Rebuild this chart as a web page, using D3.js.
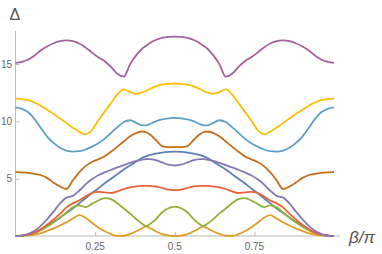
<!DOCTYPE html>
<html>
<head>
<meta charset="utf-8">
<script src="https://cdn.jsdelivr.net/npm/d3@7"></script>
<style>
  body { margin: 0; background: #fff; }
  text { font-family: "Liberation Sans", Arial, sans-serif; }
</style>
</head>
<body>
<div id="chart"></div>
<script>
// beta/pi grid (extra points at the crossings 0.41 / 0.59)
var beta = [0, 0.02, 0.04, 0.06, 0.08, 0.1, 0.12, 0.14, 0.16, 0.18, 0.2, 0.22, 0.24, 0.26, 0.28, 0.3, 0.32, 0.34, 0.36, 0.38, 0.4, 0.41,
    0.42, 0.44, 0.46, 0.48, 0.5, 0.52, 0.54, 0.56, 0.58, 0.59, 0.6, 0.62, 0.64, 0.66, 0.68, 0.7, 0.72, 0.74, 0.76, 0.78, 0.8,
    0.82, 0.84, 0.86, 0.88, 0.9, 0.92, 0.94, 0.96, 0.98, 1];

var delta1 = [0, 0.03, 0.12, 0.3, 0.58, 0.9, 1.25, 1.62, 2.0, 2.4, 2.85, 3.3, 3.75, 4.15, 4.6, 5.0, 5.4, 5.8, 6.15, 6.5, 6.85, 6.95,
    7.05, 7.18, 7.28, 7.34, 7.36, 7.34, 7.28, 7.18, 7.05, 6.95, 6.85, 6.5, 6.15, 5.8, 5.4, 5.0, 4.6, 4.15, 3.75, 3.3, 2.85,
    2.4, 2.0, 1.62, 1.25, 0.9, 0.58, 0.3, 0.12, 0.03, 0];
var delta2 = [0, 0.01, 0.05, 0.13, 0.26, 0.44, 0.66, 0.92, 1.2, 1.52, 1.82, 1.6, 1.15, 0.75, 0.42, 0.17, 0.01, 0.02, 0.18, 0.42, 0.72, 0.85,
    0.72, 0.42, 0.17, 0.04, 0, 0.04, 0.17, 0.42, 0.72, 0.85, 0.72, 0.42, 0.18, 0.02, 0.01, 0.17, 0.42, 0.75, 1.15, 1.6, 1.82,
    1.52, 1.2, 0.92, 0.66, 0.44, 0.26, 0.13, 0.05, 0.01, 0];
var delta3 = [0, 0.02, 0.1, 0.25, 0.5, 0.82, 1.2, 1.6, 2.05, 2.5, 2.68, 2.52, 2.8, 3.1, 3.3, 3.22, 2.85, 2.4, 1.95, 1.45, 1.02, 0.85,
    1.0, 1.45, 2.05, 2.42, 2.56, 2.42, 2.05, 1.45, 1.0, 0.85, 1.02, 1.45, 1.95, 2.4, 2.85, 3.22, 3.3, 3.1, 2.8, 2.52, 2.68,
    2.5, 2.05, 1.6, 1.2, 0.82, 0.5, 0.25, 0.1, 0.02, 0];
var delta4 = [0, 0.03, 0.12, 0.3, 0.6, 1.0, 1.45, 1.95, 2.5, 2.85, 3.1, 3.45, 3.75, 3.85, 3.8, 3.75, 3.9, 4.1, 4.25, 4.33, 4.37, 4.38,
    4.38, 4.33, 4.2, 4.05, 4.0, 4.05, 4.2, 4.33, 4.38, 4.38, 4.37, 4.33, 4.25, 4.1, 3.9, 3.75, 3.8, 3.85, 3.75, 3.45, 3.1,
    2.85, 2.5, 1.95, 1.45, 1.0, 0.6, 0.3, 0.12, 0.03, 0];
var delta5 = [0, 0.04, 0.18, 0.45, 0.9, 1.5, 2.15, 2.85, 3.35, 3.5, 3.95, 4.5, 4.95, 5.3, 5.55, 5.78, 5.98, 6.18, 6.38, 6.55, 6.67, 6.7,
    6.7, 6.62, 6.42, 6.22, 6.15, 6.22, 6.42, 6.62, 6.7, 6.7, 6.67, 6.55, 6.38, 6.18, 5.98, 5.78, 5.55, 5.3, 4.95, 4.5, 3.95,
    3.5, 3.35, 2.85, 2.15, 1.5, 0.9, 0.45, 0.18, 0.04, 0];
var delta6 = [5.57, 5.55, 5.5, 5.42, 5.3, 5.05, 4.65, 4.32, 4.1, 4.85, 5.55, 6.1, 6.45, 6.7, 6.95, 7.35, 7.8, 8.25, 8.7, 9.0, 9.12, 9.05,
    8.9, 8.4, 7.85, 7.76, 7.75, 7.76, 7.85, 8.4, 8.9, 9.05, 9.12, 9.0, 8.7, 8.25, 7.8, 7.35, 6.95, 6.7, 6.45, 6.1, 5.55,
    4.85, 4.1, 4.32, 4.65, 5.05, 5.3, 5.42, 5.5, 5.55, 5.57];
var delta7 = [11.22, 11.1, 10.8, 10.2, 9.4, 8.65, 8.1, 7.7, 7.45, 7.37, 7.4, 7.55, 7.8, 8.1, 8.5, 9.0, 9.5, 9.95, 10.1, 9.85, 9.65, 9.66,
    9.75, 10.0, 10.18, 10.27, 10.3, 10.27, 10.18, 10.0, 9.75, 9.66, 9.65, 9.85, 10.1, 9.95, 9.5, 9.0, 8.5, 8.1, 7.8, 7.55, 7.4,
    7.37, 7.45, 7.7, 8.1, 8.65, 9.4, 10.2, 10.8, 11.1, 11.22];
var delta8 = [11.98, 11.95, 11.85, 11.65, 11.35, 11.0, 10.65, 10.25, 9.85, 9.45, 9.1, 8.87, 9.25, 10.1, 10.85, 11.6, 12.35, 12.8, 12.55, 12.4, 12.55, 12.65,
    12.8, 13.05, 13.2, 13.27, 13.3, 13.27, 13.2, 13.05, 12.8, 12.65, 12.55, 12.4, 12.55, 12.8, 12.35, 11.6, 10.85, 10.1, 9.25, 8.87, 9.1,
    9.45, 9.85, 10.25, 10.65, 11.0, 11.35, 11.65, 11.85, 11.95, 11.98];
var delta9 = [15.1, 15.2, 15.4, 15.75, 16.2, 16.55, 16.82, 17.0, 17.07, 17.0, 16.8, 16.45, 16.0, 15.6, 15.25, 14.75, 14.15, 13.9, 15.0, 15.8, 16.4, 16.6,
    16.8, 17.1, 17.28, 17.37, 17.4, 17.37, 17.28, 17.1, 16.8, 16.6, 16.4, 15.8, 15.0, 13.9, 14.15, 14.75, 15.25, 15.6, 16.0, 16.45, 16.8,
    17.0, 17.07, 17.0, 16.82, 16.55, 16.2, 15.75, 15.4, 15.2, 15.1];

var xTicks = [0.25, 0.5, 0.75];
var xTickLabels = ["0.25", "0.5", "0.75"];
var yTicks = [5, 10, 15];

// Mathematica default palette (ColorData 97)
var colors = ["#5E81B5", "#E19C24", "#8FB032", "#EB6235", "#8778B3", "#C56E1A", "#5D9EC7", "#FFBF00", "#A5609D"];
var series = [delta1, delta2, delta3, delta4, delta5, delta6, delta7, delta8, delta9];

var width = 382, height = 254;

var svg = d3.select("#chart")
    .append("svg")
    .attr("width", width)
    .attr("height", height);

var x = d3.scaleLinear().domain([0, 1]).range([15.5, 334]);
var y = d3.scaleLinear().domain([0, 17.8]).range([236, 32]);

var axisColor = "#bbbbbb";
var labelColor = "#666666";

// axes (Mathematica style: ticks point inward, light gray)
var xAxis = d3.axisTop(x).tickValues(xTicks).tickSize(4).tickFormat((d, i) => xTickLabels[i]);
var gx = svg.append("g").attr("transform", "translate(0," + y(0) + ")").call(xAxis);
gx.select(".domain").remove();
gx.selectAll(".tick line").attr("stroke", axisColor);
gx.selectAll(".tick text").remove();
svg.append("line")
    .attr("x1", x(0)).attr("x2", 340)
    .attr("y1", y(0)).attr("y2", y(0))
    .attr("stroke", axisColor);

svg.selectAll(".xlab")
    .data(xTicks)
    .enter()
    .append("text")
    .attr("class", "xlab")
    .attr("x", d => x(d))
    .attr("y", 249.5)
    .attr("text-anchor", "middle")
    .attr("font-size", 10)
    .attr("fill", labelColor)
    .text((d, i) => xTickLabels[i]);

var yAxis = d3.axisRight(y).tickValues(yTicks).tickSize(4).tickFormat(d3.format("d"));
var gy = svg.append("g").attr("transform", "translate(" + x(0) + ",0)").call(yAxis);
gy.select(".domain").remove();
gy.selectAll(".tick line").attr("stroke", axisColor);
gy.selectAll(".tick text").remove();
svg.append("line")
    .attr("x1", x(0)).attr("x2", x(0))
    .attr("y1", y(0)).attr("y2", 31)
    .attr("stroke", axisColor);

svg.selectAll(".ylab")
    .data(yTicks)
    .enter()
    .append("text")
    .attr("class", "ylab")
    .attr("x", 12)
    .attr("y", d => y(d) + 3.5)
    .attr("text-anchor", "end")
    .attr("font-size", 10)
    .attr("fill", labelColor)
    .text(d => d);

// curves
var line = d3.line()
    .x((d, i) => x(beta[i]))
    .y(d => y(d))
    .curve(d3.curveMonotoneX);

svg.append("g")
    .selectAll("path")
    .data(series)
    .enter()
    .append("path")
    .attr("d", d => line(d))
    .attr("fill", "none")
    .attr("stroke", (d, i) => colors[i])
    .attr("stroke-width", 1.8)
    .attr("stroke-linejoin", "round");

// axis labels
svg.append("text")
    .attr("x", 9.5)
    .attr("y", 19.5)
    .attr("font-size", 16)
    .attr("fill", "#555555")
    .text("Δ");

svg.append("text")
    .attr("x", 349)
    .attr("y", 243)
    .attr("font-size", 17)
    .attr("font-style", "italic")
    .attr("fill", "#555555")
    .text("β/π");
</script>
</body>
</html>
